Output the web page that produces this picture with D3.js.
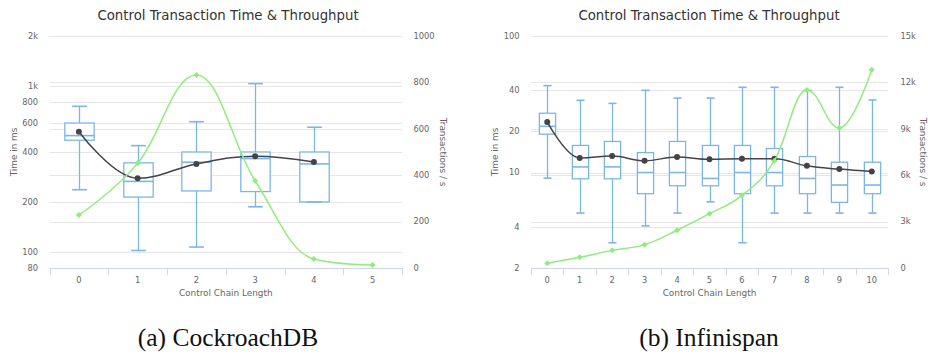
<!DOCTYPE html>
<html><head><meta charset="utf-8">
<script src="https://cdn.jsdelivr.net/npm/d3@7"></script>
<style>body{margin:0;background:#fff}svg{display:block}</style>
</head><body>
<svg id="c" width="928" height="356"></svg>
<script>
// ---------- DATA ----------
const titleText = "Control Transaction Time & Throughput";
const xTitle = "Control Chain Length";
const yTitleL = "Time in ms";
const yTitleR = "Transactions / s";

// (a) CockroachDB
const catsA = ["0","1","2","3","4","5"];
const lowA  = [237, 102, 107, 187, 200];
const q1A   = [471, 214, 233, 231, 200];
const medA  = [502, 266, 347, 365, 339];
const q3A   = [598, 344, 400, 400, 400];
const highA = [754, 437, 609, 1033, 564];
const meanA = [530, 278, 339, 377, 348];
const tputA = [228, 451, 832, 376, 39, 13];
const leftTicksA = [80, 100, 200, 400, 600, 800, 1000, 2000];
const leftLabelsA = ["80","100","200","400","600","800","1k","2k"];
const rightTicksA = [0, 200, 400, 600, 800, 1000];
const rightLabelsA = ["0","200","400","600","800","1000"];
const captionA = "(a) CockroachDB";

// (b) Infinispan
const catsB = ["0","1","2","3","4","5","6","7","8","9","10"];
const lowB  = [9.1, 5.05, 3.06, 4.07, 5.05, 6.1, 3.06, 5.05, 5.05, 5.05, 5.05];
const q1B   = [19.1, 9.0, 9.0, 7.0, 8.0, 8.0, 7.0, 8.0, 7.0, 6.05, 7.0];
const medB  = [21.8, 11.0, 11.0, 10.0, 10.0, 9.05, 10.0, 10.0, 9.05, 8.1, 8.1];
const q3B   = [27.2, 15.8, 16.9, 14.0, 16.9, 15.8, 15.8, 15.0, 13.1, 11.9, 11.9];
const highB = [43.3, 33.8, 32.1, 40.0, 35.1, 35.1, 42.1, 42.1, 40.0, 42.1, 34.0];
const meanB = [23.5, 12.8, 13.2, 12.2, 13.0, 12.5, 12.6, 12.6, 11.2, 10.6, 10.2];
const tputB = [300, 690, 1140, 1510, 2440, 3510, 4700, 6940, 11510, 9050, 12820];
const leftTicksB = [2, 4, 10, 20, 40, 100];
const leftLabelsB = ["2","4","10","20","40","100"];
const rightTicksB = [0, 3000, 6000, 9000, 12000, 15000];
const rightLabelsB = ["0","3k","6k","9k","12k","15k"];
const captionB = "(b) Infinispan";

// ---------- DRAW ----------
const svg = d3.select("#c");
const FONT = "'DejaVu Sans', sans-serif";
const BLUE = "#7cb5ec", DARK = "#434348", GREEN = "#90ed7d";

function hcSpline(pts){
  const sm = 1.5, den = sm + 1;
  let d = `M${pts[0][0]},${pts[0][1]}`;
  let prevRC = null;
  for (let i = 1; i < pts.length; i++){
    const [x, y] = pts[i], [lx, ly] = pts[i-1], next = pts[i+1];
    let lcx = x, lcy = y, rcx, rcy;
    if (next){
      const [nx, ny] = next;
      lcx = (sm*x + lx)/den; lcy = (sm*y + ly)/den;
      rcx = (sm*x + nx)/den; rcy = (sm*y + ny)/den;
      let corr = 0;
      if (rcx !== lcx) corr = ((rcy - lcy)*(rcx - x))/(rcx - lcx) + y - rcy;
      lcy += corr; rcy += corr;
      if (lcy > ly && lcy > y){ lcy = Math.max(ly, y); rcy = 2*y - lcy; }
      else if (lcy < ly && lcy < y){ lcy = Math.min(ly, y); rcy = 2*y - lcy; }
      if (rcy > ny && rcy > y){ rcy = Math.max(ny, y); lcy = 2*y - rcy; }
      else if (rcy < ny && rcy < y){ rcy = Math.min(ny, y); lcy = 2*y - rcy; }
    }
    const c1 = prevRC || [lx, ly];
    d += `C${c1[0]},${c1[1]} ${lcx},${lcy} ${x},${y}`;
    prevRC = next ? [rcx, rcy] : null;
  }
  return d;
}

function drawChart(cfg){
  const g = svg.append("g");
  const x = d3.scaleBand().domain(cfg.cats).range([cfg.x0, cfg.x1]);
  const bw = x.bandwidth();
  const cx = c => x(c) + bw/2;
  const yL = d3.scaleLog().domain(cfg.lDomain).range([cfg.y1, cfg.y0]);
  const yR = d3.scaleLinear().domain(cfg.rDomain).range([cfg.y1, cfg.y0]);

  // gridlines (both axes)
  g.append("g").selectAll("line").data(cfg.lTicks).join("line")
    .attr("x1", cfg.x0).attr("x2", cfg.x1)
    .attr("y1", d => Math.round(yL(d)) + 0.5).attr("y2", d => Math.round(yL(d)) + 0.5)
    .attr("stroke", "#e6e6e6").attr("stroke-width", 1);
  g.append("g").selectAll("line").data(cfg.rTicks).join("line")
    .attr("x1", cfg.x0).attr("x2", cfg.x1)
    .attr("y1", d => Math.round(yR(d)) + 0.5).attr("y2", d => Math.round(yR(d)) + 0.5)
    .attr("stroke", "#e6e6e6").attr("stroke-width", 1);

  // left labels
  g.append("g").selectAll("text").data(cfg.lTicks).join("text")
    .attr("x", cfg.lLabelX).attr("y", d => yL(d)).attr("dy", "0.33em")
    .attr("text-anchor", "end").attr("font-family", FONT).attr("font-size", 8.3)
    .attr("fill", "#666").text((d, i) => cfg.lLabels[i]);
  // right labels
  g.append("g").selectAll("text").data(cfg.rTicks).join("text")
    .attr("x", cfg.rLabelX).attr("y", d => yR(d)).attr("dy", "0.33em")
    .attr("text-anchor", "start").attr("font-family", FONT).attr("font-size", 8.3)
    .attr("fill", "#666").text((d, i) => cfg.rLabels[i]);

  // x axis line & ticks
  g.append("line").attr("x1", cfg.x0).attr("x2", cfg.x1)
    .attr("y1", cfg.y1 + 0.5).attr("y2", cfg.y1 + 0.5).attr("stroke", "#ccd6eb");
  const bounds = cfg.cats.map(c => x(c)).concat([cfg.x1]);
  g.append("g").selectAll("line").data(bounds).join("line")
    .attr("x1", d => Math.round(d) + 0.5).attr("x2", d => Math.round(d) + 0.5)
    .attr("y1", cfg.y1).attr("y2", cfg.y1 + 7).attr("stroke", "#ccd6eb");
  g.append("g").selectAll("text").data(cfg.cats).join("text")
    .attr("x", d => cx(d)).attr("y", cfg.y1 + 14.5)
    .attr("text-anchor", "middle").attr("font-family", FONT).attr("font-size", 8.3)
    .attr("fill", "#666").text(d => d);

  // titles
  g.append("text").attr("x", (cfg.x0 + cfg.x1)/2).attr("y", 296)
    .attr("text-anchor", "middle").attr("font-family", FONT).attr("font-size", 8.9)
    .attr("fill", "#666").text(xTitle);
  g.append("text").attr("transform", `translate(${cfg.lTitleX},${(cfg.y0+cfg.y1)/2}) rotate(-90)`)
    .attr("text-anchor", "middle").attr("dominant-baseline", "central")
    .attr("font-family", FONT).attr("font-size", 8.9).attr("fill", "#666").text(yTitleL);
  g.append("text").attr("transform", `translate(${cfg.rTitleX},${(cfg.y0+cfg.y1)/2}) rotate(90)`)
    .attr("text-anchor", "middle").attr("dominant-baseline", "central")
    .attr("font-family", FONT).attr("font-size", 8.9).attr("fill", "#666").text(yTitleR);
  g.append("text").attr("x", cfg.titleX).attr("y", 20.3)
    .attr("text-anchor", "middle").attr("font-family", FONT).attr("font-size", 13.3)
    .attr("fill", "#333").text(titleText);

  // boxplots
  const boxW = bw * 0.5, capW = boxW * 0.5;
  const boxes = cfg.low.map((v, i) => ({c: cfg.cats[i], low: v, q1: cfg.q1[i], med: cfg.med[i], q3: cfg.q3[i], high: cfg.high[i]}));
  const bg = g.append("g").attr("stroke", BLUE).attr("fill", "none");
  boxes.forEach(b => {
    const X = Math.round(cx(b.c)) + 0.5;
    const t = bg.append("g");
    t.append("line").attr("x1", X).attr("x2", X).attr("y1", yL(b.high)).attr("y2", yL(b.q3)).attr("stroke-width", 1.3);
    t.append("line").attr("x1", X).attr("x2", X).attr("y1", yL(b.q1)).attr("y2", yL(b.low)).attr("stroke-width", 1.3);
    t.append("rect").attr("x", X - boxW/2).attr("y", yL(b.q3)).attr("width", boxW)
      .attr("height", yL(b.q1) - yL(b.q3)).attr("fill", "#fff").attr("stroke-width", 1.3);
    t.append("line").attr("x1", X - capW/2).attr("x2", X + capW/2).attr("y1", yL(b.high)).attr("y2", yL(b.high)).attr("stroke-width", 1.6);
    t.append("line").attr("x1", X - capW/2).attr("x2", X + capW/2).attr("y1", yL(b.low)).attr("y2", yL(b.low)).attr("stroke-width", 1.6);
    t.append("line").attr("x1", X - boxW/2).attr("x2", X + boxW/2).attr("y1", yL(b.med)).attr("y2", yL(b.med)).attr("stroke-width", 1.6);
  });

  // mean spline
  const meanPts = cfg.mean.map((v, i) => [cx(cfg.cats[i]), yL(v)]);
  g.append("path").attr("d", hcSpline(meanPts)).attr("fill", "none")
    .attr("stroke", DARK).attr("stroke-width", 1.5);
  g.append("g").selectAll("circle").data(meanPts).join("circle")
    .attr("cx", d => d[0]).attr("cy", d => d[1]).attr("r", 3).attr("fill", DARK);

  // throughput spline
  const tPts = cfg.tput.map((v, i) => [cx(cfg.cats[i]), yR(v)]);
  g.append("path").attr("d", hcSpline(tPts)).attr("fill", "none")
    .attr("stroke", GREEN).attr("stroke-width", 1.5);
  g.append("g").selectAll("path.d").data(tPts).join("path")
    .attr("d", d => `M${d[0]},${d[1]-3}L${d[0]+3},${d[1]}L${d[0]},${d[1]+3}L${d[0]-3},${d[1]}Z`)
    .attr("fill", GREEN);

  // caption
  svg.append("text").attr("x", cfg.titleX).attr("y", 346)
    .attr("text-anchor", "middle").attr("font-family", "'Liberation Serif', serif")
    .attr("font-size", 25.5).attr("fill", "#111").text(cfg.caption);
}

drawChart({x0: 49.5, x1: 402, y0: 36, y1: 268, cats: catsA,
  lDomain: [80, 2000], rDomain: [0, 1000],
  lTicks: leftTicksA, lLabels: leftLabelsA, rTicks: rightTicksA, rLabels: rightLabelsA,
  low: lowA, q1: q1A, med: medA, q3: q3A, high: highA, mean: meanA, tput: tputA,
  lLabelX: 38, rLabelX: 413.5, lTitleX: 13.5, rTitleX: 443, titleX: 228, caption: captionA});

drawChart({x0: 531, x1: 888, y0: 36, y1: 268, cats: catsB,
  lDomain: [2, 100], rDomain: [0, 15000],
  lTicks: leftTicksB, lLabels: leftLabelsB, rTicks: rightTicksB, rLabels: rightLabelsB,
  low: lowB, q1: q1B, med: medB, q3: q3B, high: highB, mean: meanB, tput: tputB,
  lLabelX: 519.5, rLabelX: 900.5, lTitleX: 495, rTitleX: 923, titleX: 709, caption: captionB});
</script>
</body></html>
